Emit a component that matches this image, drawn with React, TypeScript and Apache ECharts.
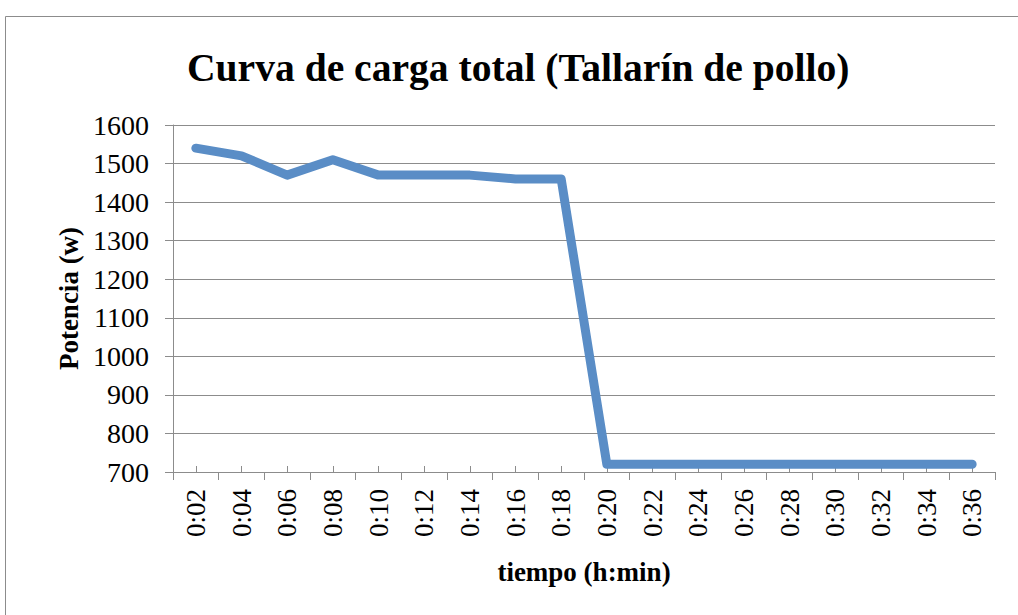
import React, { useEffect, useRef } from "react";
import * as echarts from "echarts";

const categories = ["0:02","0:04","0:06","0:08","0:10","0:12","0:14","0:16","0:18","0:20","0:22","0:24","0:26","0:28","0:30","0:32","0:34","0:36"];
const potencia = [1540,1520,1470,1510,1470,1470,1470,1460,1460,720,720,720,720,720,720,720,720,720];
const titleText = "Curva de carga total (Tallarín de pollo)";
const yName = "Potencia (w)";
const xName = "tiempo (h:min)";

const FONT = "'Liberation Serif', 'Times New Roman', serif";
const GRAY = "#8c8c8c";

export default function App() {
  const ref = useRef<HTMLDivElement>(null);
  useEffect(() => {
    document.body.style.margin = "0";
    const chart = echarts.init(ref.current!, null, { renderer: "svg" });
    chart.setOption({
      animation: false,
      backgroundColor: "#ffffff",
      title: {
        text: titleText,
        left: 182,
        top: 43,
        textStyle: { fontFamily: FONT, fontWeight: "bold", fontSize: 39.6, color: "#000" },
      },
      graphic: [
        {
          type: "rect",
          shape: { x: 5.5, y: 16.5, width: 1100, height: 700 },
          style: { fill: "none", stroke: GRAY, lineWidth: 1 },
          silent: true,
        },
      ],
      grid: { left: 173, right: 23, top: 125, bottom: 143 },
      xAxis: [
        {
          type: "category",
          data: categories,
          boundaryGap: true,
          name: xName,
          nameLocation: "middle",
          nameGap: 86,
          nameTextStyle: { fontFamily: FONT, fontWeight: "bold", fontSize: 27, color: "#000" },
          axisLine: { lineStyle: { color: GRAY, width: 1 } },
          axisTick: { show: true, inside: false, length: 8, lineStyle: { color: GRAY } },
          axisLabel: { rotate: 90, margin: 17, fontFamily: FONT, fontSize: 27, color: "#000" },
        },
        {
          type: "category",
          data: categories,
          boundaryGap: true,
          position: "bottom",
          axisLine: { show: false },
          axisTick: { show: true, inside: true, alignWithLabel: true, length: 6, lineStyle: { color: GRAY } },
          axisLabel: { show: false },
          splitLine: { show: false },
        },
      ],
      yAxis: {
        type: "value",
        min: 700,
        max: 1600,
        interval: 100,
        name: yName,
        nameLocation: "middle",
        nameGap: 86,
        nameTextStyle: { fontFamily: FONT, fontWeight: "bold", fontSize: 27, color: "#000" },
        axisLine: { show: true, lineStyle: { color: GRAY, width: 1 } },
        axisTick: { show: true, inside: false, length: 8, lineStyle: { color: GRAY } },
        axisLabel: {
          margin: 24,
          fontFamily: FONT,
          fontSize: 28,
          color: "#000",
          formatter: (v: number) => String(v),
        },
        splitLine: { show: true, lineStyle: { color: GRAY, width: 1 } },
      },
      series: [
        {
          type: "line",
          data: potencia,
          xAxisIndex: 0,
          showSymbol: false,
          symbol: "none",
          lineStyle: { color: "#5A8DC6", width: 9, cap: "round", join: "round" },
          itemStyle: { color: "#5A8DC6" },
        },
      ],
    });
    return () => chart.dispose();
  }, []);
  return <div ref={ref} style={{ width: 1018, height: 615 }} />;
}
